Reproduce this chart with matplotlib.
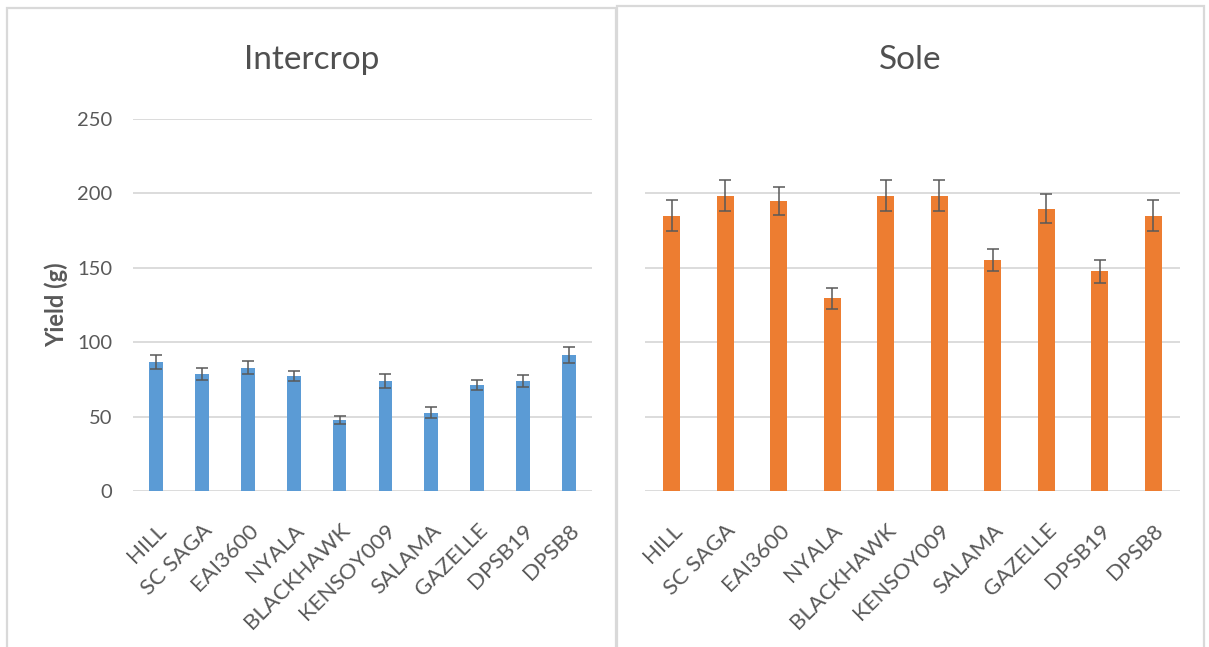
import matplotlib
matplotlib.use("Agg")
import matplotlib.pyplot as plt
from matplotlib.patches import Rectangle
from matplotlib.transforms import ScaledTranslation
import numpy as np

plt.rcParams['font.family'] = ['Lato', 'DejaVu Sans']

categories = ["HILL", "SC SAGA", "EAI3600", "NYALA", "BLACKHAWK",
              "KENSOY009", "SALAMA", "GAZELLE", "DPSB19", "DPSB8"]
intercrop = [86.7, 78.6, 82.9, 77.1, 47.9, 73.9, 52.6, 71.2, 73.9, 91.4]
intercrop_err = [4.5, 4.0, 4.5, 3.5, 2.7, 4.7, 3.8, 3.6, 3.8, 5.4]
sole = [185.1, 198.4, 194.7, 129.4, 198.4, 198.4, 155.2, 189.8, 147.7, 185.1]
sole_err = [10.2, 10.3, 9.5, 6.9, 10.3, 10.3, 7.6, 9.5, 7.6, 10.2]
left_ticks = [0, 50, 100, 150, 200, 250]
right_ticks = [0, 50, 100, 150, 200]

W, H = 1209, 647
fig = plt.figure(figsize=(W / 100, H / 100), dpi=100)
fig.patch.set_facecolor('white')

grid_c = '#D9D9D9'
text_c = '#595959'
err_c = '#595959'

# panel borders
for (x0, y0, x1) in [(7, 8, 616), (617, 6, 1204)]:
    fig.patches.append(Rectangle((x0 / W, -0.05), (x1 - x0) / W, 1.05 - y0 / H,
                                 transform=fig.transFigure, fill=False,
                                 edgecolor=grid_c, linewidth=1.6, zorder=0))

axL = fig.add_axes([133 / W, 1 - 491 / H, (592 - 133) / W, (491 - 119) / H])
axR = fig.add_axes([645 / W, 1 - 491 / H, (1180 - 645) / W, (491 - 119) / H])

x = np.arange(len(categories))
specs = [
    (axL, intercrop, intercrop_err, '#5B9BD5', left_ticks, 0.30, "Intercrop", 312),
    (axR, sole, sole_err, '#ED7D31', right_ticks, 0.32, "Sole", 910),
]
shift = ScaledTranslation(4 / 100, 0, fig.dpi_scale_trans)
for ax, vals, errs, col, ticks, bw, title, tx in specs:
    ax.set_facecolor('none')
    ax.bar(x, vals, width=bw, color=col, zorder=3)
    ax.errorbar(x, vals, yerr=errs, fmt='none', ecolor=err_c, elinewidth=1.1,
                capsize=4.5, capthick=1.1, zorder=4)
    ax.set_xlim(-0.5, len(categories) - 0.5)
    ax.set_ylim(0, 250)
    for t in ticks:
        ax.axhline(t, color=grid_c, linewidth=1.3, zorder=1)
    for s in ax.spines.values():
        s.set_visible(False)
    ax.set_xticks(x)
    ax.set_xticklabels(categories, rotation=45, ha='right', va='top',
                       rotation_mode='anchor', fontsize=16, color=text_c)
    for lab in ax.get_xticklabels():
        lab.set_transform(lab.get_transform() + shift)
    ax.tick_params(axis='x', length=0, pad=21)
    fig.text(tx / W, 1 - 60 / H, title, ha='center', va='center',
             fontsize=24, color='#505050')

axL.set_yticks(left_ticks)
axL.set_yticklabels([str(t) for t in left_ticks], fontsize=14.5, color=text_c)
axL.tick_params(axis='y', length=0, pad=15)
axL.set_ylabel("Yield (g)", fontsize=17, fontweight='bold', color=text_c, labelpad=6)
axR.set_yticks([])

fig.savefig("out.png", dpi=100, facecolor='white')
